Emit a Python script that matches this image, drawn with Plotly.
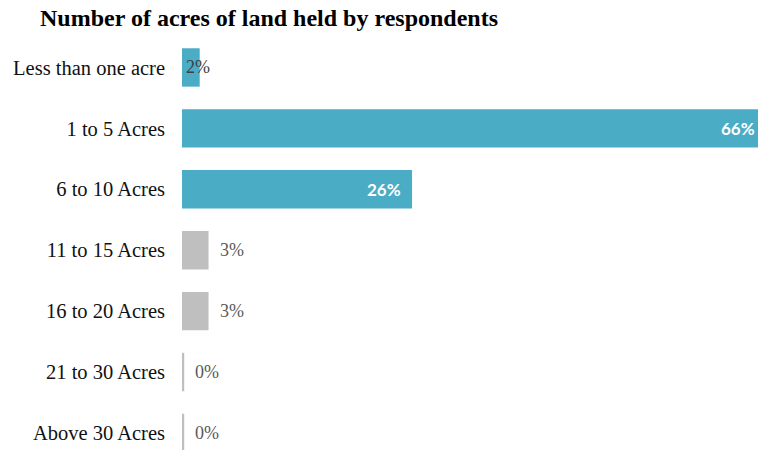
import plotly.graph_objects as go

categories = ["Less than one acre", "1 to 5 Acres", "6 to 10 Acres", "11 to 15 Acres",
              "16 to 20 Acres", "21 to 30 Acres", "Above 30 Acres"]
values = [2.0, 66.0, 26.0, 3.0, 3.0, 0.25, 0.25]
labels = ["2%", "66%", "26%", "3%", "3%", "0%", "0%"]
colors = ["#4BACC6", "#4BACC6", "#4BACC6", "#BFBFBF", "#BFBFBF", "#BFBFBF", "#BFBFBF"]
label_mode = ["start", "inside", "inside", "outside", "outside", "outside", "outside"]

XMAX = 65.1
PLOT_W = 758 - 182
PX_PER_UNIT = PLOT_W / XMAX

fig = go.Figure(go.Bar(
    x=values, y=categories, orientation="h",
    marker=dict(color=colors, line=dict(width=0)),
    hoverinfo="skip",
))

annotations = []
for cat, v, lab, mode in zip(categories, values, labels, label_mode):
    if mode == "inside":
        xa = min(v, XMAX)
        extra = (v - xa) * PX_PER_UNIT
        annotations.append(dict(x=xa, y=cat, xref="x", yref="y", text="<b>" + lab + "</b>",
                                showarrow=False, xanchor="right", xshift=-9 + extra,
                                font=dict(family="Lato, sans-serif", size=17, color="#FFFFFF")))
    elif mode == "start":
        annotations.append(dict(x=0, y=cat, xref="x", yref="y", text=lab,
                                showarrow=False, xanchor="left", xshift=2,
                                font=dict(family="Liberation Serif, serif", size=18, color="#404040")))
    else:
        annotations.append(dict(x=v, y=cat, xref="x", yref="y", text=lab,
                                showarrow=False, xanchor="left", xshift=9,
                                font=dict(family="Liberation Serif, serif", size=18, color="#595959")))

fig.update_layout(
    width=758, height=450,
    margin=dict(l=182, r=0, t=37, b=0),
    paper_bgcolor="white", plot_bgcolor="white",
    bargap=0.37,
    showlegend=False,
    title=dict(text="<b>Number of acres of land held by respondents</b>",
               xref="container", x=40/758, xanchor="left",
               yref="container", y=1 - 18/450, yanchor="middle",
               font=dict(family="Liberation Serif, serif", size=24, color="#000000")),
    annotations=annotations,
    xaxis=dict(range=[0, XMAX], visible=False),
    yaxis=dict(type="category", categoryorder="array", categoryarray=categories,
               range=[6.28, -0.5], showgrid=False, zeroline=False, showline=False,
               ticks="", ticklabelstandoff=16,
               tickfont=dict(family="Liberation Serif, serif", size=20.5, color="#111111")),
)

fig.write_html("out.html")
